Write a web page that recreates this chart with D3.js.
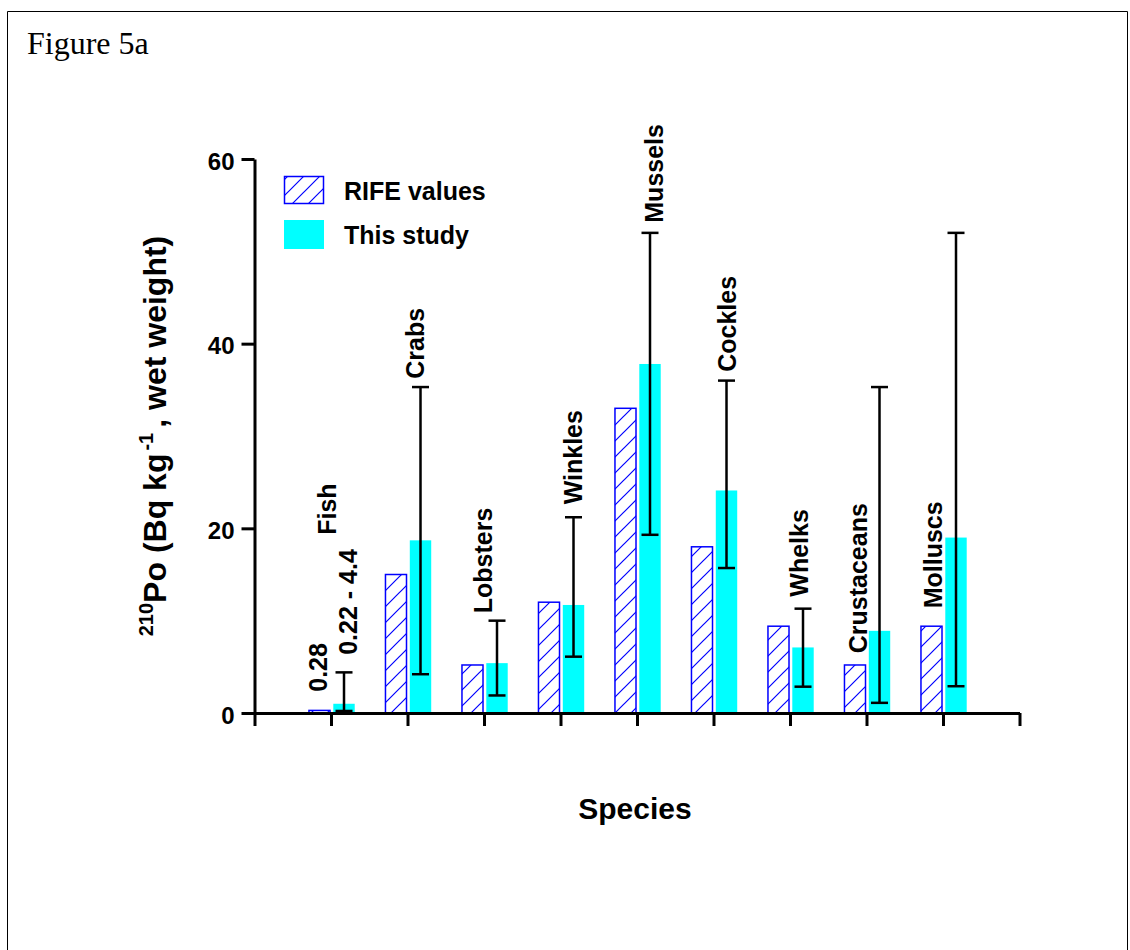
<!DOCTYPE html>
<html>
<head>
<meta charset="utf-8">
<script src="https://cdn.jsdelivr.net/npm/d3@7"></script>
<style>
  html, body { margin: 0; padding: 0; background: #fff; }
  svg { display: block; }
</style>
</head>
<body>
<svg id="chart" width="1130" height="950"></svg>
<script>
// 210Po activity concentrations by species (Bq/kg wet weight)
const categories = ["Fish", "Crabs", "Lobsters", "Winkles", "Mussels", "Cockles", "Whelks", "Crustaceans", "Molluscs"];
const rifeValues = [0.28, 15, 5.2, 12, 33, 18, 9.4, 5.2, 9.4];
const studyValues = [1.0, 18.7, 5.4, 11.7, 37.8, 24.1, 7.1, 8.9, 19.0];
const studyLow = [0.22, 4.2, 1.9, 6.1, 19.3, 15.7, 2.85, 1.1, 2.9];
const studyHigh = [4.4, 35.3, 10.0, 21.2, 52, 36, 11.3, 35.3, 52];
const yTicks = [0, 20, 40, 60];
const seriesNames = ["RIFE values", "This study"];
const fishNotes = ["0.28", "0.22 - 4.4"];

// label anchors: [x in category units, y in data units] (bottom of rotated text)
const nameAnchors = [[0.948, 19.3], [2.098, 36.2], [2.983, 10.8], [4.16, 22.6], [5.22, 53.1],
                     [6.18, 36.95], [7.12, 12.6], [7.89, 6.47], [8.865, 11.34]];
const noteAnchors = [[0.83, 2.3], [1.226, 6.3]];

const svg = d3.select("#chart");
const font = '"Liberation Sans", Arial, Helvetica, sans-serif';

// outer frame
svg.append("path")
  .attr("d", "M7.5,950 V11.5 H1127.5 V950")
  .attr("fill", "none").attr("stroke", "#000").attr("stroke-width", 1);

svg.append("text")
  .attr("x", 27).attr("y", 54)
  .style("font-family", '"Liberation Serif", "Times New Roman", serif')
  .style("font-size", "32px")
  .text("Figure 5a");

// hatch pattern
const defs = svg.append("defs");
const pat = defs.append("pattern")
  .attr("id", "hatch").attr("patternUnits", "userSpaceOnUse")
  .attr("width", 16).attr("height", 16);
pat.append("path")
  .attr("d", "M0,16 L16,0 M-4,4 L4,-4 M12,20 L20,12")
  .attr("stroke", "#0000ff").attr("stroke-width", 1.2);

const x = d3.scaleLinear().domain([0, 10]).range([254.5, 1019.5]);
const y = d3.scaleLinear().domain([0, 60]).range([713, 159]);
const unit = x(1) - x(0);

// bars
const g = svg.append("g");
const rifeL = -0.288, rifeR = -0.013, studyL = 0.03, studyR = 0.31;

g.selectAll("rect.study").data(studyValues).join("rect")
  .attr("class", "study")
  .attr("x", (d, i) => x(i + 1 + studyL))
  .attr("width", (studyR - studyL) * unit)
  .attr("y", d => y(d))
  .attr("height", d => y(0) - y(d))
  .attr("fill", "#00ffff");

g.selectAll("rect.rife").data(rifeValues).join("rect")
  .attr("class", "rife")
  .attr("x", (d, i) => x(i + 1 + rifeL))
  .attr("width", (rifeR - rifeL) * unit)
  .attr("y", d => y(d))
  .attr("height", d => y(0) - y(d))
  .attr("fill", "url(#hatch)")
  .attr("stroke", "#0000ff").attr("stroke-width", 1.5);

// error bars
const errX = i => x(i + 1 + 0.17);
const capHalf = 8.5;
const eg = svg.append("g").attr("stroke", "#000").attr("stroke-width", 2.5).attr("fill", "none");
categories.forEach((c, i) => {
  const cx = errX(i);
  eg.append("line").attr("x1", cx).attr("x2", cx).attr("y1", y(studyLow[i])).attr("y2", y(studyHigh[i]));
  eg.append("line").attr("x1", cx - capHalf).attr("x2", cx + capHalf).attr("y1", y(studyLow[i])).attr("y2", y(studyLow[i]));
  eg.append("line").attr("x1", cx - capHalf).attr("x2", cx + capHalf).attr("y1", y(studyHigh[i])).attr("y2", y(studyHigh[i]));
});

// axes
const yAxis = svg.append("g").attr("transform", `translate(${x(0)},0)`)
  .call(d3.axisLeft(y).tickValues(yTicks).tickSize(13).tickSizeOuter(0).tickPadding(7));
const xAxis = svg.append("g").attr("transform", `translate(0,${y(0)})`)
  .call(d3.axisBottom(x).tickValues(d3.range(0, 11)).tickSize(13).tickSizeOuter(0).tickFormat(""));
[yAxis, xAxis].forEach(a => {
  a.selectAll("path, line").attr("stroke", "#000").attr("stroke-width", 3);
});
yAxis.selectAll("text")
  .attr("font-family", font).attr("font-weight", "bold").attr("font-size", 24)
  .attr("fill", "#000").attr("dy", "0.42em");

// category names
const rotLabel = (txt, a) => svg.append("text")
  .attr("transform", `translate(${x(a[0])},${y(a[1])}) rotate(-90)`)
  .attr("dy", "0.36em")
  .attr("font-family", font).attr("font-weight", "bold").attr("font-size", 25)
  .text(txt);
categories.forEach((c, i) => rotLabel(c, nameAnchors[i]));
fishNotes.forEach((t, i) => rotLabel(t, noteAnchors[i]));

// axis titles
svg.append("text")
  .attr("x", 635).attr("y", 819)
  .attr("text-anchor", "middle")
  .attr("font-family", font).attr("font-weight", "bold").attr("font-size", 30)
  .text("Species");

const yt = svg.append("text")
  .attr("transform", `translate(166,${(y(0) + y(60)) / 2}) rotate(-90)`)
  .attr("text-anchor", "middle")
  .attr("font-family", font).attr("font-weight", "bold").attr("font-size", 32);
yt.append("tspan").attr("font-size", 20).attr("dy", -13).text("210");
yt.append("tspan").attr("dy", 13).text("Po (Bq kg");
yt.append("tspan").attr("font-size", 20).attr("dy", -13).attr("dx", 3).text("-1");
yt.append("tspan").attr("dy", 13).attr("dx", 5).text(", wet weight)");

// legend
const legend = svg.append("g");
legend.append("rect").attr("x", 284.5).attr("y", 176.5).attr("width", 39).attr("height", 27)
  .attr("fill", "url(#hatch)").attr("stroke", "#0000ff").attr("stroke-width", 1.5);
legend.append("rect").attr("x", 284).attr("y", 220).attr("width", 40).attr("height", 29)
  .attr("fill", "#00ffff");
seriesNames.forEach((s, i) => {
  legend.append("text").attr("x", 344).attr("y", 200 + i * 43.5)
    .attr("font-family", font).attr("font-weight", "bold").attr("font-size", 25)
    .text(s);
});
</script>
</body>
</html>
